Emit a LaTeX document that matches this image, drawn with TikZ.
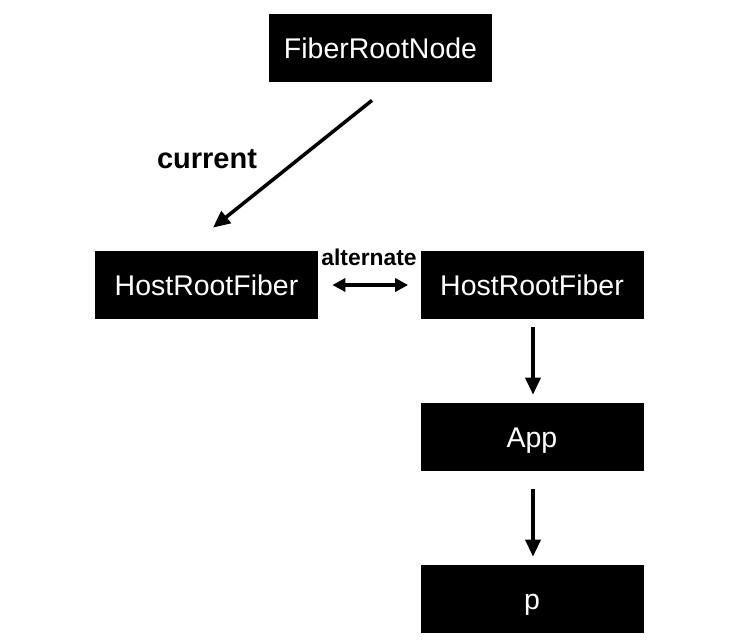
\documentclass[tikz,border=0pt]{standalone}
\usepackage{fontspec}
\setmainfont{Liberation Sans}
\usepackage{tikz}
\usetikzlibrary{arrows.meta, positioning}

\begin{document}
\begin{tikzpicture}[
        fiber/.style={fill=black, text=white, minimum width=4.46cm, minimum height=1.36cm, inner sep=0pt, text height=11.6pt, text depth=0pt, font=\fontsize{16.2}{19}\selectfont},
        link/.style={line width=2pt, -{Triangle[length=0.34cm, width=0.3cm]}}
    ]
        \useasboundingbox (0,0) rectangle (14.84,12.78);

        % Fiber boxes
        \node[fiber] (root) at (7.61,11.82) {FiberRootNode};
        \node[fiber] (hostcur) at (4.13,7.08) {HostRootFiber};
        \node[fiber] (hostalt) at (10.64,7.08) {HostRootFiber};
        \node[fiber] (app) at (10.64,4.04) {App};
        \node[fiber] (pnode) at (10.64,0.80) {p};

        % current pointer
        \draw[link] ([shift={(-0.17,-0.36)}]root.south) -- ([shift={(0.13,0.46)}]hostcur.north);
        \node[font=\bfseries\fontsize{16.5}{19}\selectfont] (curlabel) at (4.14,9.60) {current};

        % alternate pointers
        \draw[line width=2pt, {Triangle[length=0.26cm, width=0.26cm]}-{Triangle[length=0.26cm, width=0.26cm]}, shorten <=0.28cm, shorten >=0.24cm] (hostcur.east) -- (hostalt.west);
        \node[font=\bfseries\fontsize{13}{15}\selectfont] (altlabel) at (7.38,7.64) {alternate};

        % child links
        \draw[link, shorten <=0.16cm, shorten >=0.16cm] ([xshift=0.02cm]hostalt.south) -- ([xshift=0.02cm]app.north);
        \draw[link, shorten <=0.36cm, shorten >=0.16cm] ([xshift=0.02cm]app.south) -- ([xshift=0.02cm]pnode.north);
    \end{tikzpicture}
\end{document}
